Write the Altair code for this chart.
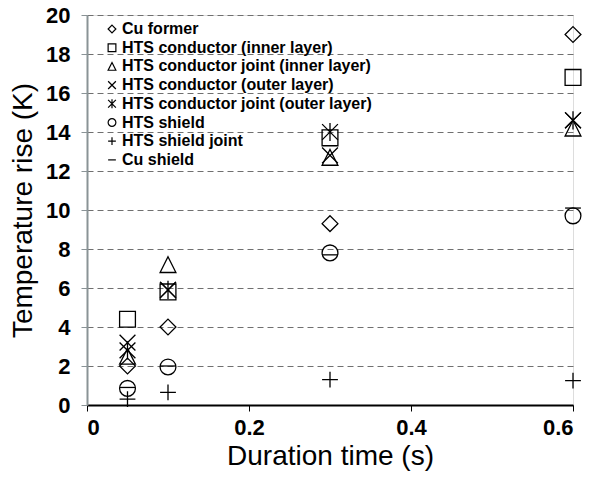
import altair as alt
import pandas as pd

times = [0.05, 0.1, 0.3, 0.6]
names = [
    "Cu former",
    "HTS conductor (inner layer)",
    "HTS conductor joint (inner layer)",
    "HTS conductor (outer layer)",
    "HTS conductor joint (outer layer)",
    "HTS shield",
    "HTS shield joint",
    "Cu shield",
]
cu_former = [2.0, 4.0, 9.3, 19.0]
hts_cond_inner = [4.4, 5.8, 13.7, 16.8]
hts_joint_inner = [2.5, 7.2, 12.7, 14.2]
hts_cond_outer = [3.2, 5.9, 12.8, 14.6]
hts_joint_outer = [2.8, 5.9, 14.0, 14.6]
hts_shield = [0.85, 1.95, 7.8, 9.7]
hts_shield_joint = [0.3, 0.65, 1.3, 1.25]
cu_shield = [0.9, 2.0, 7.7, 10.1]
y_ticks = [0, 2, 4, 6, 8, 10, 12, 14, 16, 18, 20]
x_ticks = [0, 0.2, 0.4, 0.6]

all_series = [cu_former, hts_cond_inner, hts_joint_inner, hts_cond_outer,
              hts_joint_outer, hts_shield, hts_shield_joint, cu_shield]

rows = []
for name, vals in zip(names, all_series):
    for t, v in zip(times, vals):
        rows.append({"time": t, "rise": v, "series": name})
df = pd.DataFrame(rows)

shapes = [
    "M0,-1L1,0L0,1L-1,0Z",
    "M-1,-1H1V1H-1Z",
    "M0,-1L1,1H-1Z",
    "M-1,-1L1,1M-1,1L1,-1",
    "M-1,-1L1,1M-1,1L1,-1M0,-1.15V1.15",
    "circle",
    "M-1,0H1M0,-1V1",
    "M-1,0H1",
]

FONT = "Liberation Sans"

x_scale = alt.Scale(domain=[0, 0.6], nice=False, zero=True)
y_scale = alt.Scale(domain=[0, 20], nice=False)

chart = alt.Chart(df).mark_point(
    filled=False, color="black", strokeWidth=1.3, size=250, opacity=1
).encode(
    x=alt.X("time:Q", scale=x_scale, axis=alt.Axis(
        values=x_ticks, format="~g", grid=False, labelOverlap=False,
        domainColor="black", domainWidth=2, tickColor="black", tickSize=6,
        labelFont=FONT, labelFontSize=22, labelFontWeight="bold", labelColor="black",
        labelPadding=6, title="Duration time (s)", titleFont=FONT, titleFontSize=28,
        titleFontWeight="normal", titleColor="black", titlePadding=4)),
    y=alt.Y("rise:Q", scale=y_scale, axis=alt.Axis(
        values=y_ticks, tickCount=11, grid=True, gridDash=[6, 4], gridColor="#707070",
        gridWidth=1, domainColor="#8a9396", domainWidth=2, tickColor="#8a9396",
        tickSize=6, labelFont=FONT, labelFontSize=22, labelFontWeight="bold",
        labelColor="black", labelPadding=11, labelOverlap=False,
        title="Temperature rise (K)",
        titleFont=FONT, titleFontSize=28, titleFontWeight="normal",
        titleColor="black", titlePadding=8)),
    shape=alt.Shape("series:N", scale=alt.Scale(domain=names, range=shapes),
                    legend=alt.Legend(
                        title=None, orient="none", legendX=17, legendY=6,
                        symbolSize=60, symbolStrokeColor="black", symbolFillColor="transparent",
                        symbolStrokeWidth=1.2, labelFont=FONT, labelFontSize=16,
                        labelFontWeight="bold", labelColor="black", rowPadding=2.7,
                        labelOffset=2, padding=0, labelLimit=0)),
).properties(
    width=486, height=390,
    autosize=alt.AutoSizeParams(type="none"),
    padding={"left": 87, "top": 15, "right": 21, "bottom": 75},
).configure_view(stroke="black", strokeWidth=1.5).configure(background="white")

chart.save("out.html", embed_options={"renderer": "svg", "actions": False})
